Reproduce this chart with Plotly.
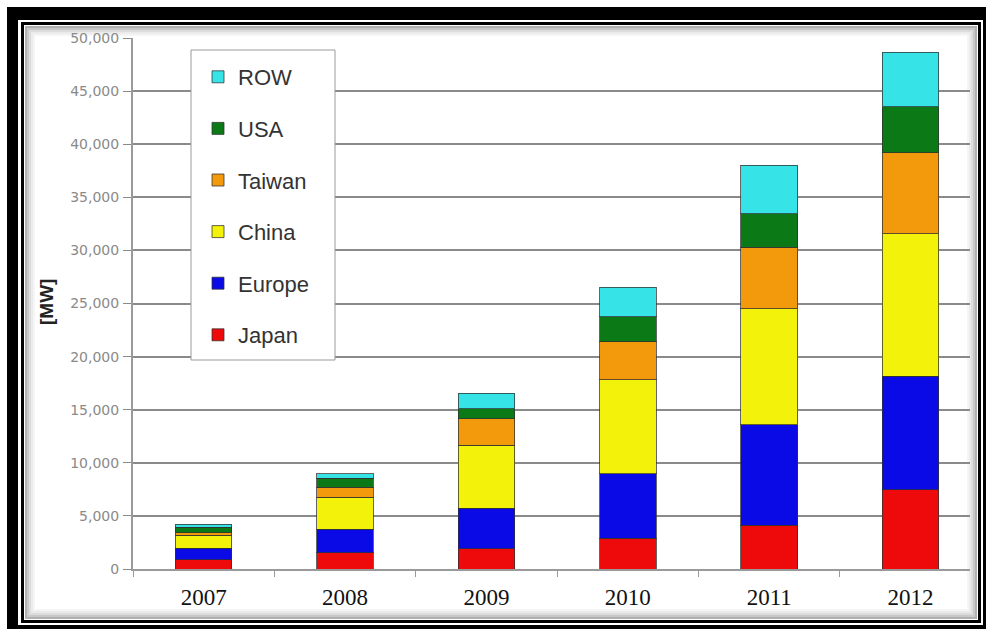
import plotly.graph_objects as go

# ---- data (MW) ----
years  = ["2007", "2008", "2009", "2010", "2011", "2012"]
japan  = [850, 1550, 1900, 2900, 4100, 7450]
europe = [1100, 2200, 3800, 6050, 9500, 10700]
china  = [1250, 3000, 5950, 8850, 10900, 13400]
taiwan = [200, 950, 2500, 3600, 5800, 7650]
usa    = [550, 850, 950, 2350, 3150, 4350]
row    = [250, 400, 1450, 2800, 4550, 5100]

series_names = ["Japan", "Europe", "China", "Taiwan", "USA", "ROW"]
series_vals = [japan, europe, china, taiwan, usa, row]
colors = ["#EE0A0A", "#0A0AE6", "#F2F20A", "#F39A0C", "#0B7A16", "#36E3E6"]
ytick_vals = list(range(0, 50001, 5000))

W, H = 986, 629
PL, PR, PT, PB = 133, 970, 38, 569  # plot area in pixels


def px(x):
    return (x - PL) / (PR - PL)


def py(y):
    return (PB - y) / (PB - PT)


fig = go.Figure()
n = len(series_names)
for i, (name, vals, col) in enumerate(zip(series_names, series_vals, colors)):
    fig.add_trace(go.Bar(
        x=years, y=vals, name=name, legendgroup=name, legendrank=n - i,
        marker=dict(color=col, line=dict(color="rgba(50,50,50,0.75)", width=1)),
        width=0.4,
    ))

shapes = []
# outer frame
shapes.append(dict(type="rect", xref="paper", yref="paper", layer="below",
                   x0=px(7), x1=px(990), y0=py(632), y1=py(7),
                   fillcolor="black", line=dict(width=0)))
shapes.append(dict(type="rect", xref="paper", yref="paper", layer="below",
                   x0=px(18), x1=px(983), y0=py(625), y1=py(20),
                   fillcolor="white", line=dict(width=0)))
shapes.append(dict(type="rect", xref="paper", yref="paper", layer="below",
                   x0=px(22.5), x1=px(979.5), y0=py(621.5), y1=py(23.5),
                   fillcolor="white", line=dict(color="black", width=3)))
for off, c in [(26, "#b0b0b0"), (28, "#c8c8c8"), (30, "#dcdcdc"), (32, "#ebebeb"), (34, "#f5f5f5")]:
    d = off - 24
    shapes.append(dict(type="rect", xref="paper", yref="paper", layer="below",
                       x0=px(24 + d), x1=px(978 - d), y0=py(620 - d), y1=py(25 + d),
                       fillcolor="rgba(0,0,0,0)", line=dict(color=c, width=2)))
# legend box
shapes.append(dict(type="rect", xref="paper", yref="paper", layer="above",
                   x0=px(191), x1=px(335), y0=py(360), y1=py(50),
                   fillcolor="white", line=dict(color="#9a9a9a", width=1)))

fig.update_layout(
    width=W, height=H,
    margin=dict(l=PL, r=W - PR, t=PT, b=H - PB, autoexpand=False),
    paper_bgcolor="white",
    plot_bgcolor="rgba(0,0,0,0)",
    barmode="stack",
    shapes=shapes,
    showlegend=True,
    legend=dict(x=px(198), y=py(56), xanchor="left", yanchor="top",
                bgcolor="rgba(0,0,0,0)", borderwidth=0,
                traceorder="grouped", tracegroupgap=20,
                font=dict(family="Liberation Sans, Arial", size=22, color="#333333")),
    xaxis=dict(type="category", range=[-0.5, 5.42],
               showline=True, linecolor="#9a9a9a", linewidth=2,
               ticks="outside", tickson="boundaries", ticklen=6, tickcolor="#9a9a9a",
               showgrid=False,
               tickfont=dict(family="Liberation Serif, Times New Roman", size=23, color="#111111"),
               ticklabelstandoff=6),
    yaxis=dict(range=[0, 50000], tickvals=ytick_vals, tickformat=",",
               showline=True, linecolor="#9a9a9a", linewidth=2,
               ticks="outside", ticklen=8, tickcolor="#8a8a8a",
               showgrid=True, gridcolor="#8a8a8a", gridwidth=2, zeroline=False,
               tickfont=dict(family="DejaVu Sans", size=14, color="#8a8a8a"),
               ticklabelstandoff=1),
    annotations=[dict(text="[MW]", xref="paper", yref="paper", x=px(46), y=py(302),
                      xanchor="center", yanchor="middle",
                      showarrow=False, textangle=-90,
                      font=dict(family="Liberation Sans, Arial", size=19, color="#222222", weight="bold"))],
)

fig.write_html("out.html")
